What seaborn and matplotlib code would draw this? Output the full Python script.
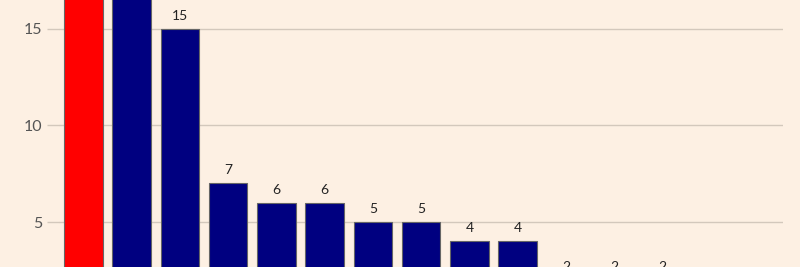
import matplotlib
matplotlib.use("Agg")
import matplotlib.pyplot as plt
import seaborn as sns
import pandas as pd

categories = ["A", "B", "C", "D", "E", "F", "G", "H", "I", "J", "K", "L", "M", "N", "O"]
values = [22, 17, 15, 7, 6, 6, 5, 5, 4, 4, 2, 2, 2, 1, 1]
bar_colors = ["#FF0000"] + ["#000080"] * 14
y_ticks = [5, 10, 15]

df = pd.DataFrame({"category": categories, "value": values})

sns.set_theme(style="white")
plt.rcParams["font.family"] = ["Lato", "DejaVu Sans"]

bg = "#FDF0E3"
fig = plt.figure(figsize=(8, 2.67), dpi=100, facecolor=bg)
ax = fig.add_axes([59.3 / 800, 0, (783 - 59.3) / 800, 1])
ax.set_facecolor(bg)

sns.barplot(data=df, x="category", y="value", hue="category", palette=bar_colors,
            saturation=1, legend=False, width=0.8, edgecolor="#666666", linewidth=0.8,
            ax=ax, zorder=3)

for i, v in enumerate(values):
    ax.annotate(str(v), (i, v), xytext=(0, 5), textcoords="offset points",
                ha="center", va="bottom", fontsize=10, color="#222222",
                annotation_clip=False)

ax.set_ylim(2.67, 16.5)
ax.set_xlim(-0.5, len(values) - 0.5)
ax.set_yticks(y_ticks)
ax.set_yticklabels([str(t) for t in y_ticks])
ax.yaxis.grid(True, color="#D3C8BC", linewidth=1, zorder=0)
ax.xaxis.grid(False)
for s in ax.spines.values():
    s.set_visible(False)
ax.set_xticks([])
ax.set_xlabel("")
ax.set_ylabel("")
ax.tick_params(axis="y", which="both", left=True, length=9, width=1, color="#D3C8BC",
               pad=3.5, labelsize=11.5, labelcolor="#555555")

fig.savefig("out.png", dpi=100, facecolor=bg)
